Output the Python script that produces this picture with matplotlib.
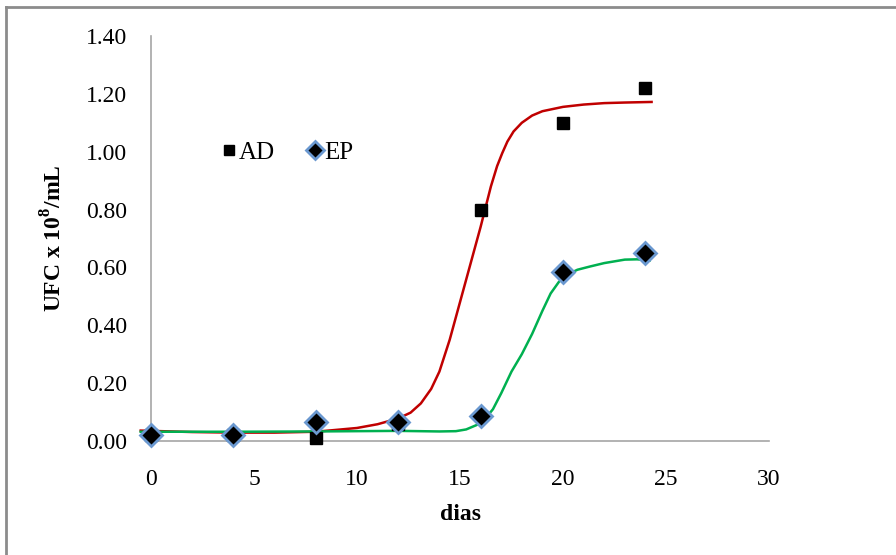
import matplotlib
matplotlib.use("Agg")
import matplotlib.pyplot as plt
from matplotlib.lines import Line2D

# measured counts (UFC x 10^8/mL)
dias = [0, 4, 8, 12, 16, 20, 24]
ad = [0.02, 0.02, 0.01, 0.06, 0.80, 1.10, 1.22]
ep = [0.02, 0.02, 0.065, 0.065, 0.085, 0.585, 0.65]

# fitted curves
ad_fit_x = [-0.5, 2, 4, 6, 8, 10, 11, 12, 12.6, 13.1, 13.6, 14.0, 14.5, 15.0,
            15.5, 16.0, 16.5, 16.8, 17.05, 17.3, 17.6, 18.0, 18.5, 19.0, 20.0,
            21.0, 22.0, 23.0, 24.3]
ad_fit_y = [0.036, 0.031, 0.029, 0.029, 0.032, 0.045, 0.058, 0.078, 0.098,
            0.13, 0.18, 0.24, 0.35, 0.48, 0.61, 0.74, 0.88, 0.95, 0.995, 1.035,
            1.07, 1.10, 1.125, 1.14, 1.155, 1.163, 1.168, 1.17, 1.172]
ep_fit_x = [-0.5, 4, 8, 12, 14, 14.8, 15.3, 15.8, 16.2, 16.6, 17.0, 17.5,
            18.0, 18.5, 19.0, 19.4, 19.8, 20.2, 20.7, 21.3, 22.0, 23.0, 23.6,
            24.2]
ep_fit_y = [0.032, 0.032, 0.033, 0.035, 0.033, 0.034, 0.04, 0.055, 0.075,
            0.11, 0.165, 0.24, 0.30, 0.37, 0.45, 0.51, 0.55, 0.575, 0.592,
            0.603, 0.615, 0.627, 0.628, 0.624]

xticks = [0, 5, 10, 15, 20, 25, 30]
yticks = [0.0, 0.2, 0.4, 0.6, 0.8, 1.0, 1.2, 1.4]

plt.rcParams["font.family"] = ["Liberation Serif", "DejaVu Serif"]
plt.rcParams["mathtext.fontset"] = "custom"
plt.rcParams["mathtext.rm"] = "Liberation Serif"
plt.rcParams["mathtext.bf"] = "Liberation Serif:bold"

fig = plt.figure(figsize=(8.96, 5.55), dpi=100)
ax = fig.add_axes([151 / 896, 1 - 441 / 555, 618 / 896, 405 / 555])

# outer frame (only top and left edges show in the source)
fx, fy = 6 / 896, 1 - 7 / 555
fig.lines.append(Line2D([fx, 1.0], [fy, fy], transform=fig.transFigure,
                        color="#8c8c8c", linewidth=2))
fig.lines.append(Line2D([fx, fx], [0.0, fy], transform=fig.transFigure,
                        color="#8c8c8c", linewidth=2))

ax.plot(ad_fit_x, ad_fit_y, color="#c00000", linewidth=1.8, zorder=2,
        clip_on=False)
ax.plot(ep_fit_x, ep_fit_y, color="#00b050", linewidth=1.8, zorder=2,
        clip_on=False)

ax.plot(dias, ad, marker="s", linestyle="none", color="black", markersize=9,
        label="AD", zorder=3, clip_on=False)
ax.plot(dias, ep, marker="D", linestyle="none", color="black", markersize=11,
        markeredgecolor="#6a98d0", markeredgewidth=2, label="EP", zorder=4,
        clip_on=False)

ax.set_xlim(0, 30)
ax.set_ylim(0, 1.4)
ax.set_xticks(xticks)
ax.set_yticks(yticks)
ax.set_yticklabels([f"{v:.2f}" for v in yticks])
ax.tick_params(length=0, labelsize=17)
ax.tick_params(axis="x", pad=20)
ax.tick_params(axis="y", pad=17)

for s in ["top", "right"]:
    ax.spines[s].set_visible(False)
for s in ["left", "bottom"]:
    ax.spines[s].set_color("#a6a6a6")
    ax.spines[s].set_linewidth(1.2)

ax.set_xlabel("dias", fontsize=17, fontweight="bold", labelpad=10)
ax.set_ylabel("UFC x 10$^{\\mathbf{8}}$/mL", fontsize=17, fontweight="bold",
              labelpad=14)

ax.legend(loc="center left", bbox_to_anchor=(0.085, 0.712), ncol=2,
          frameon=False, fontsize=18, handletextpad=-0.2, columnspacing=1.0,
          handlelength=1.2, borderaxespad=0, markerscale=0.85)

fig.savefig("out.png", dpi=100)
